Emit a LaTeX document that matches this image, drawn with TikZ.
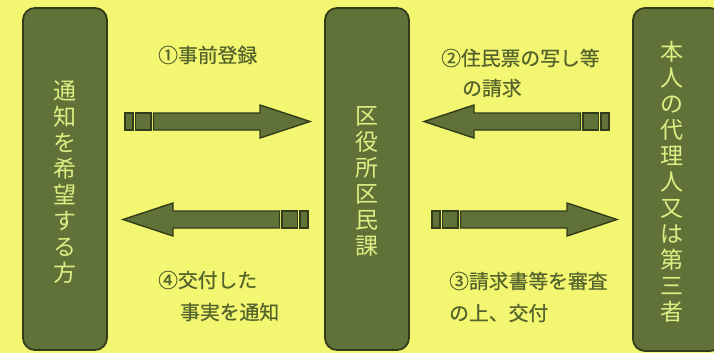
\documentclass[tikz,border=0pt]{standalone}
\usepackage{fontspec}
\newfontfamily\jpfont{Noto Sans CJK JP}
\newfontfamily\jplabel{Noto Sans CJK JP}[FakeBold=0.6]
\definecolor{bgyellow}{RGB}{242,246,112}
\definecolor{boxgreen}{RGB}{96,114,56}
\definecolor{boxedge}{RGB}{50,60,26}
\definecolor{boxtext}{RGB}{222,238,132}
\definecolor{labeltext}{RGB}{84,100,44}
\tikzset{
  panel/.style={draw=boxedge, line width=1.8pt, fill=boxgreen, rounded corners=12pt},
  vtext/.style={font=\jpfont\fontsize{23}{26}\selectfont, text=boxtext, align=center, inner sep=0pt},
  lbl/.style={font=\jplabel\fontsize{19.8}{22}\selectfont, text=labeltext, anchor=west, inner sep=0pt},
  arrowpart/.style={draw=boxedge, line width=1.4pt, fill=boxgreen, line join=miter},
  blkarrow/.pic={
    \draw[arrowpart] (0,-8.5) rectangle (8,8.5);
    \draw[arrowpart] (10.5,-8.5) rectangle (26,8.5);
    \draw[arrowpart] (28.5,-8.5) -- (135,-8.5) -- (135,-16.5) -- (185,0) -- (135,16.5) -- (135,8.5) -- (28.5,8.5) -- cycle;
  }
}
\begin{document}
\begin{tikzpicture}[x=1pt,y=-1pt]
\fill[bgyellow] (0,0) rectangle (714,353);
\useasboundingbox (0,0) rectangle (714,353);
% boxes
\draw[panel] (23,8) rectangle (107,350);
\draw[panel] (325,8) rectangle (409,350);
\draw[panel] (633,8) rectangle (722,351);
\node[vtext] (left) at (65,182) {通\\知\\を\\希\\望\\す\\る\\方};
\node[vtext] (mid) at (367,181) {区\\役\\所\\区\\民\\課};
\node[vtext] (right) at (672,182) {本\\人\\の\\代\\理\\人\\又\\は\\第\\三\\者};
% arrows
\pic at (125,121.5) {blkarrow};
\pic[xscale=-1] at (609,121.5) {blkarrow};
\pic[xscale=-1] at (308,219.5) {blkarrow};
\pic at (432,219.5) {blkarrow};
% labels
\node[lbl] (l1) at (158,55) {①事前登録};
\node[lbl] (l2a) at (441,58) {②住民票の写し等};
\node[lbl] (l2b) at (462,88) {の請求};
\node[lbl] (l4a) at (158,280) {④交付した};
\node[lbl] (l4b) at (180,312) {事実を通知};
\node[lbl] (l3a) at (449,281) {③請求書等を審査};
\node[lbl] (l3b) at (449,313) {の上、交付};
\end{tikzpicture}
\end{document}
